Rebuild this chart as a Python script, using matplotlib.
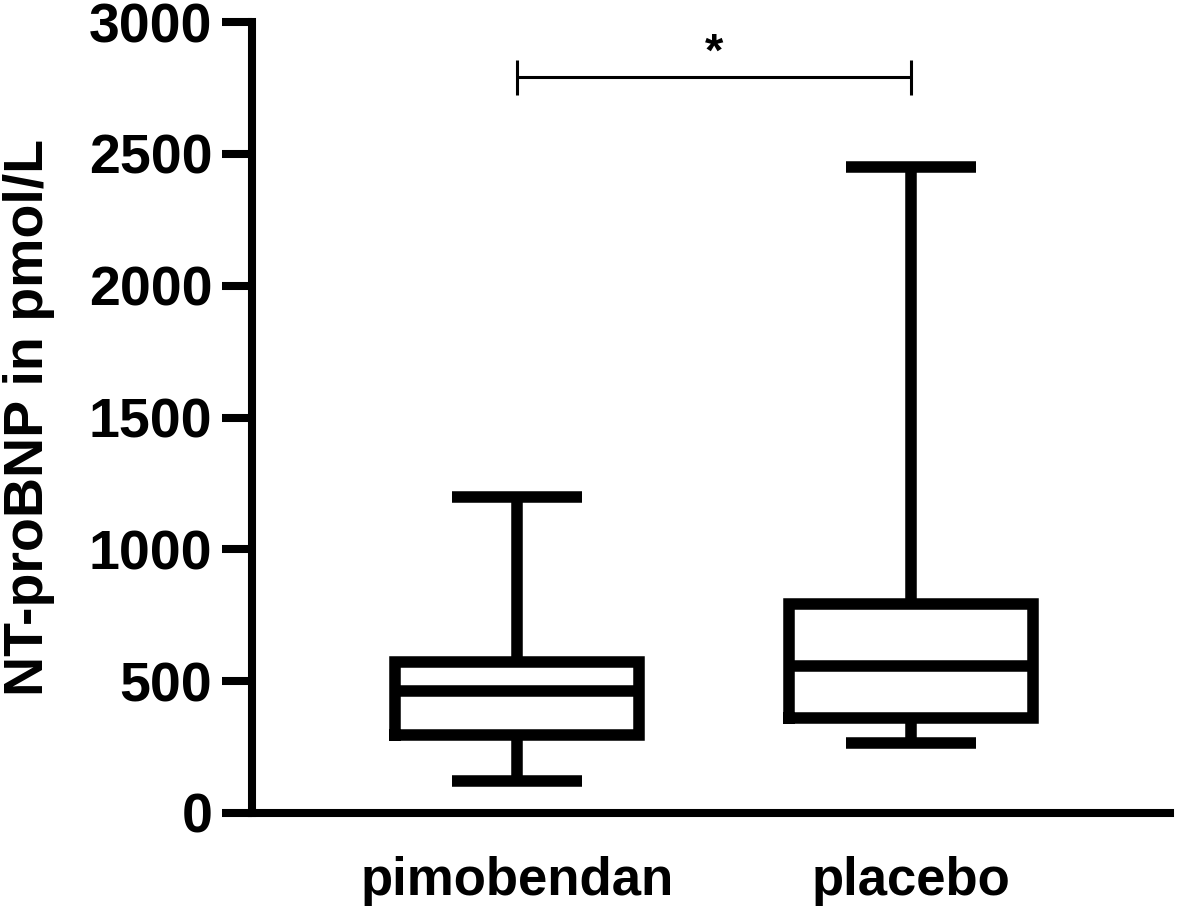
import matplotlib
matplotlib.use("Agg")
import matplotlib.pyplot as plt

plt.rcParams['font.family'] = ['Liberation Sans', 'DejaVu Sans']
plt.rcParams['font.weight'] = 'bold'

# datos (pmol/L)
grupos = ['pimobendan', 'placebo']
minimo = [121, 267]
q1 = [294, 362]
mediana = [463, 557]
q3 = [571, 791]
maximo = [1200, 2450]

y_ticks = [0, 500, 1000, 1500, 2000, 2500, 3000]
eje_y = 'NT-proBNP in pmol/L'
signif = '*'

fig = plt.figure(figsize=(11.81, 9.18), dpi=100)
ax = fig.add_axes([0.2134, 0.1144, 0.7773, 0.8616])

stats = []
for i in range(len(grupos)):
    stats.append({'label': grupos[i], 'whislo': minimo[i], 'q1': q1[i],
                  'med': mediana[i], 'q3': q3[i], 'whishi': maximo[i], 'fliers': []})

lw = 8.3
ax.bxp(stats, positions=[1, 2], widths=0.62, capwidths=0.33, showfliers=False,
       boxprops=dict(color='black', linewidth=lw, solid_joinstyle='miter'),
       medianprops=dict(color='black', linewidth=lw, solid_capstyle='butt'),
       whiskerprops=dict(color='black', linewidth=lw, solid_capstyle='butt'),
       capprops=dict(color='black', linewidth=lw, solid_capstyle='butt'))

# barra de significancia
y_barra = 2790
ax.plot([1, 2], [y_barra, y_barra], color='black', lw=2.2, solid_capstyle='butt', clip_on=False)
for x in [1, 2]:
    ax.plot([x, x], [y_barra - 65, y_barra + 65], color='black', lw=2.2, solid_capstyle='butt', clip_on=False)
ax.text(1.5, y_barra + 5, signif, ha='center', va='bottom', fontsize=34, fontweight='bold')

ax.set_xlim(0.327, 2.657)
ax.set_ylim(0, 3000)
ax.set_yticks(y_ticks)
ax.set_xticks([1, 2])
ax.set_xticklabels(grupos, fontsize=38, fontweight='bold')
ax.tick_params(axis='x', length=0, pad=31)
ax.tick_params(axis='y', length=21.6, width=5.8, labelsize=40, pad=7)
for t in ax.get_yticklabels():
    t.set_fontweight('bold')
ax.set_ylabel(eje_y, fontsize=40, fontweight='bold', labelpad=24)

for s in ['top', 'right']:
    ax.spines[s].set_visible(False)
for s in ['left', 'bottom']:
    ax.spines[s].set_linewidth(5.8)

fig.savefig('out.png', dpi=100)
